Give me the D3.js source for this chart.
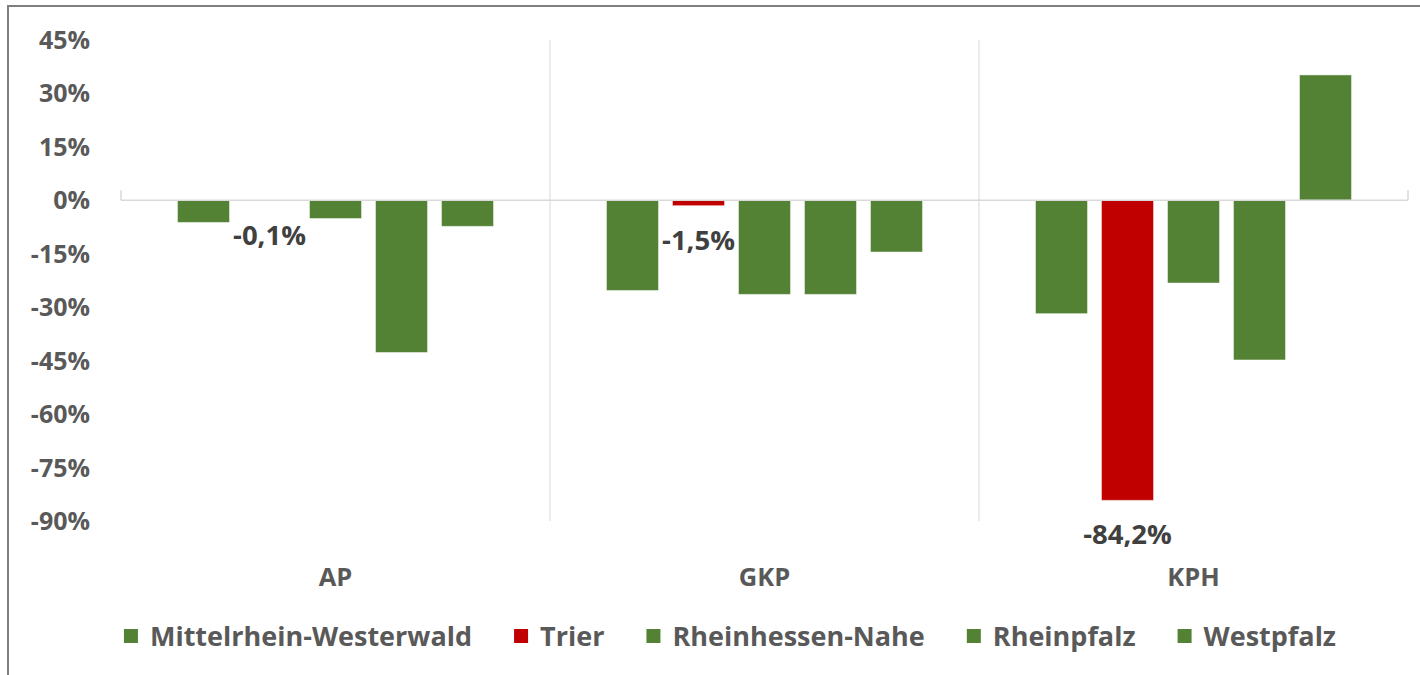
<!DOCTYPE html>
<html><head><meta charset="utf-8">
<script src="https://cdn.jsdelivr.net/npm/d3@7"></script>
<style>
html,body{margin:0;padding:0;background:#fff;}
svg text{font-family:"Open Sans",sans-serif;font-weight:700;}
</style></head>
<body>
<svg id="chart" width="1420" height="675"></svg>
<script>
const categories = ["AP", "GKP", "KPH"];
const seriesNames = ["Mittelrhein-Westerwald", "Trier", "Rheinhessen-Nahe", "Rheinpfalz", "Westpfalz"];
const seriesColors = ["#548235", "#C00000", "#548235", "#548235", "#548235"];
const mittelrhein = [-6.2, -25.3, -31.8];
const trier = [-0.1, -1.5, -84.2];
const rheinhessen = [-5.1, -26.4, -23.2];
const rheinpfalz = [-42.7, -26.4, -44.8];
const westpfalz = [-7.3, -14.5, 35.2];
const yTicks = [45, 30, 15, 0, -15, -30, -45, -60, -75, -90];
const labeledSeries = ["Trier"];

(function () {
const seriesValues = [mittelrhein, trier, rheinhessen, rheinpfalz, westpfalz];
const data = [];
categories.forEach((c, ci) => seriesNames.forEach((s, si) => data.push({cat: c, series: s, value: seriesValues[si][ci], color: seriesColors[si]})));

const svg = d3.select("#chart");
const pLeft = 121, pRight = 1408, pTop = 40, pBottom = 521;

// frame
svg.append("rect").attr("x", 8).attr("y", 6).attr("width", 1430).attr("height", 700)
  .attr("fill", "none").attr("stroke", "#7f7f7f").attr("stroke-width", 2);

const y = d3.scaleLinear().domain([-90, 45]).range([pBottom, pTop]);
const x0 = d3.scaleBand().domain(categories).range([pLeft, pRight]).padding(0);
const x1 = d3.scaleBand().domain(seriesNames).range([0, x0.bandwidth()]).paddingInner(0.212).paddingOuter(0.856);

// vertical gridlines between categories
const gridX = categories.slice(1).map(c => x0(c));
svg.append("g").selectAll("line").data(gridX).join("line")
  .attr("x1", d => d).attr("x2", d => d).attr("y1", pTop).attr("y2", pBottom)
  .attr("stroke", "#d9d9d9").attr("stroke-width", 1);

// y tick labels
svg.append("g").selectAll("text").data(yTicks).join("text")
  .attr("x", 90).attr("y", d => y(d)).attr("dy", "0.36em")
  .attr("text-anchor", "end").attr("fill", "#595959").attr("font-size", 25)
  .text(d => d + "%");

// bars
svg.append("g").selectAll("rect").data(data).join("rect")
  .attr("x", d => x0(d.cat) + x1(d.series))
  .attr("width", x1.bandwidth())
  .attr("y", d => y(Math.max(0, d.value)))
  .attr("height", d => Math.abs(y(d.value) - y(0)))
  .attr("fill", d => d.color)
  .attr("stroke", "#ffffff").attr("stroke-opacity", 0.45).attr("stroke-width", 1);

// zero axis line with end ticks
svg.append("line").attr("x1", pLeft).attr("x2", pRight).attr("y1", y(0)).attr("y2", y(0))
  .attr("stroke", "#d9d9d9").attr("stroke-width", 1.5);
svg.append("g").selectAll("line").data([pLeft, pRight]).join("line")
  .attr("x1", d => d).attr("x2", d => d).attr("y1", y(0) - 10).attr("y2", y(0))
  .attr("stroke", "#d9d9d9").attr("stroke-width", 1.5);

// data labels
svg.append("g").selectAll("text").data(data.filter(d => labeledSeries.includes(d.series))).join("text")
  .attr("x", d => x0(d.cat) + x1(d.series) + x1.bandwidth() / 2)
  .attr("y", d => y(d.value) + 44)
  .attr("text-anchor", "middle").attr("fill", "#404040").attr("font-size", 27.5)
  .text(d => d3.format(".1f")(d.value).replace(".", ",").replace("−", "-") + "%");

// category labels
svg.append("g").selectAll("text").data(categories).join("text")
  .attr("x", d => x0(d) + x0.bandwidth() / 2).attr("y", 586)
  .attr("text-anchor", "middle").attr("fill", "#595959").attr("font-size", 25.5)
  .text(d => d);

// legend
const lg = svg.append("g");
const items = lg.selectAll("g").data(seriesNames).join("g");
items.append("rect").attr("width", 14).attr("height", 14).attr("y", -7)
  .attr("fill", (d, i) => seriesColors[i]);
items.append("text").attr("x", 26).attr("dy", "0.36em").attr("fill", "#595959").attr("font-size", 27).text(d => d);
let xpos = 0;
const offs = [];
items.each(function(d) {
  offs.push(xpos);
  const w = d3.select(this).select("text").node().getComputedTextLength();
  xpos += 26 + w + 42;
});
const total = xpos - 42;
const startX = 730 - total / 2;
items.attr("transform", (d, i) => `translate(${startX + offs[i]},636)`);
})();
</script>
</body></html>
